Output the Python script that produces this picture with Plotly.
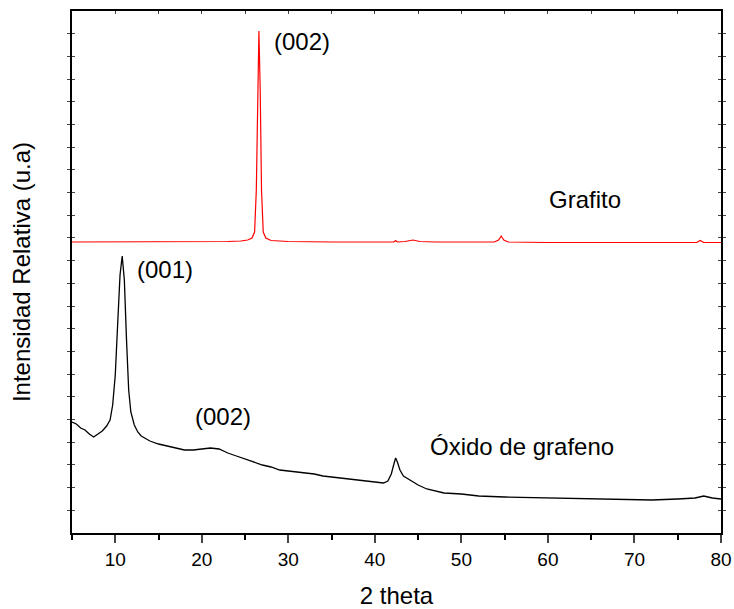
import plotly.graph_objects as go

# Grafito (red) - 2theta and relative intensity (arbitrary units)
graf_x = [5, 10, 15, 20, 23, 24.5, 25.3, 25.8, 26.1, 26.3, 26.45, 26.6, 26.75, 26.9, 27.1, 27.4, 28, 30, 35, 40,
          42.2, 42.4, 42.6, 43.5, 44.4, 45.2, 47, 53.8, 54.3, 54.6, 54.9, 55.4, 60, 70, 77.2, 77.6, 78, 80]
graf_y = [291, 291, 291, 291, 291.5, 292, 293, 295, 301, 343, 443, 502, 443, 343, 301, 295, 292.5, 291.5, 291, 291,
          291, 292.5, 291, 291.5, 293, 291.5, 291, 291, 293, 297, 293, 291, 290.5, 290.5, 290.5, 292.5, 290.5, 290.5]

# Óxido de grafeno (black)
go_x = [5.0, 5.5, 6.0, 6.5, 7.0, 7.5, 8.0, 8.5, 9.0, 9.4, 9.7, 10.0, 10.3, 10.55, 10.8, 11.05, 11.3, 11.55, 11.8,
        12.2, 12.6, 13.0, 14.0, 15.0, 16.0, 17.0, 18.0, 19.0, 20.0, 21.0, 22.0, 23.0, 24.0, 25.0, 26.0, 27.0, 28.0,
        29.0, 30.0, 31.0, 32.0, 33.0, 34.0, 35.0, 36.0, 37.0, 38.0, 39.0, 40.0, 41.0, 41.5, 41.9, 42.2, 42.4, 42.6,
        42.9, 43.3, 44.0, 45.0, 46.0, 47.0, 48.0, 50.0, 52.0, 55.0, 60.0, 65.0, 70.0, 72.0, 75.0, 77.0, 78.0, 78.5,
        79.0, 80.0]
go_y = [111, 109, 105, 103, 99, 96, 99, 102, 107, 113, 128, 158, 213, 258, 277, 253, 193, 143, 121,
        108, 101, 97, 92, 89, 87, 85, 83, 83, 84, 85, 84, 80, 77, 74, 71, 68, 66,
        63, 62, 61, 60, 59, 57, 56, 55, 54, 53, 52, 51, 50, 52, 59, 69, 75, 71,
        63, 57, 53, 48, 44, 42, 40, 39, 37, 36, 35, 34, 33, 33, 34, 35, 37, 36,
        35, 34]

labels = [
    ("(002)", 31.6, 492),
    ("Grafito", 64.3, 334),
    ("(001)", 15.75, 264),
    ("(002)", 22.45, 117),
    ("Óxido de grafeno", 57.0, 87),
]

FONT = "Arial, 'Liberation Sans', sans-serif"

fig = go.Figure()
fig.add_trace(go.Scatter(x=graf_x, y=graf_y, mode="lines", line=dict(color="#ff0000", width=1.2),
                         showlegend=False))
fig.add_trace(go.Scatter(x=go_x, y=go_y, mode="lines", line=dict(color="black", width=1.3),
                         showlegend=False))
fig.add_trace(go.Scatter(x=[5, 80], y=[None, None], xaxis="x2", showlegend=False, hoverinfo="skip"))

for txt, x, y in labels:
    fig.add_annotation(x=x, y=y, text=txt, showarrow=False, xanchor="center", yanchor="middle",
                       font=dict(size=24, color="black", family=FONT))

fig.update_layout(
    width=734, height=609,
    margin=dict(l=72, r=13, t=11, b=76, autoexpand=False),
    paper_bgcolor="white", plot_bgcolor="white",
    font=dict(family=FONT, color="black", size=19),
    xaxis=dict(range=[5, 80], dtick=10, tick0=0, ticks="outside", ticklen=8, tickwidth=1.5,
               showline=True, linecolor="black", linewidth=2, mirror=True, showgrid=False, zeroline=False,
               tickfont=dict(size=19), automargin=False,
               minor=dict(dtick=5, tick0=0, ticks="outside", ticklen=5, tickwidth=1.5, tickcolor="black"),
               title=dict(text="2 theta", font=dict(size=24), standoff=20)),
    xaxis2=dict(range=[5, 80], overlaying="x", side="top", dtick=5, tick0=0, ticks="inside", ticklen=3,
                tickcolor="#444", showticklabels=False, showgrid=False, zeroline=False, showline=False,
                automargin=False),
    yaxis=dict(range=[0, 522], dtick=522 / 23, tick0=0, ticks="inside", ticklen=3, tickwidth=1,
               showticklabels=False, showline=True, linecolor="black", linewidth=2, mirror="allticks",
               showgrid=False, zeroline=False, automargin=False,
               title=dict(text="Intensidad Relativa (u.a)", font=dict(size=24), standoff=33)),
)

fig.write_html("out.html")
